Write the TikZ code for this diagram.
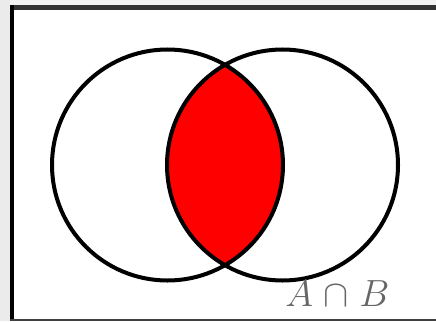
\documentclass[tikz,border=0pt]{standalone}
\begin{document}
\begin{tikzpicture}[x=1pt,y=-1pt,
  setline/.style={line width=4pt,black}]
\useasboundingbox (0,0) rectangle (436,321);
\fill[white] (0,0) rectangle (436,321);
\fill[black!8] (0,0) rectangle (10,321);
\fill[black!5] (10,0) rectangle (436,5);
% lens
\begin{scope}
  \clip (167.5,165) circle[radius=115.5];
  \fill[red] (282.5,165) circle[radius=115.5];
\end{scope}
\draw[setline] (167.5,165) circle[radius=115.5];
\draw[setline] (282.5,165) circle[radius=115.5];
% frame
\draw[draw=black!80,line width=5pt] (10,7.5) -- (436,7.5);
\draw[draw=black,line width=4pt] (12,5) -- (12,321);
\draw[draw=black!75,line width=2pt] (10,320) -- (436,320);
\node[text=black!60,anchor=base west,inner sep=0pt,font=\Huge,scale=1.52] (lbl) at (285,306) {$A\mskip1mu\cap\mskip1mu B$};
\end{tikzpicture}
\end{document}
